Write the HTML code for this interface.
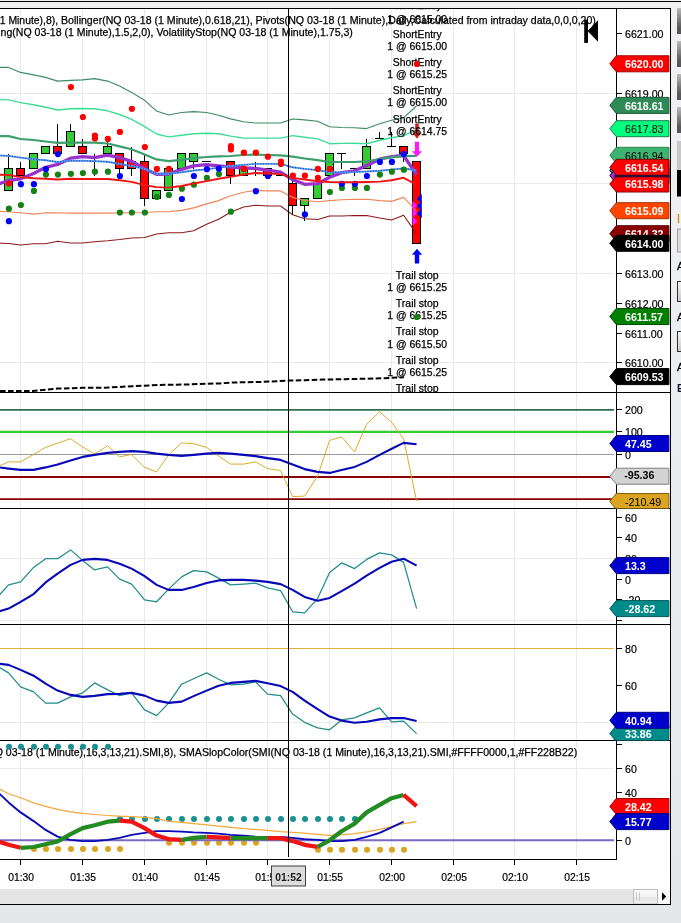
<!DOCTYPE html>
<html lang="en"><head><meta charset="utf-8"><title>Chart</title>
<style>
html,body{margin:0;padding:0;background:#e8e8e8;}
body{width:681px;height:923px;overflow:hidden;font-family:"Liberation Sans",sans-serif;}
svg{display:block;}
</style></head><body>
<svg width="681" height="923" viewBox="0 0 681 923" font-family="'Liberation Sans', sans-serif" font-size="10.67px">
<defs><linearGradient id="obg" x1="0" x2="0" y1="0" y2="1"><stop offset="0" stop-color="#f1f1f3"/><stop offset="0.5" stop-color="#ebecef"/><stop offset="1" stop-color="#e6e7e8"/></linearGradient></defs>
<rect x="0" y="0" width="681" height="923" fill="url(#obg)"/>
<rect x="0" y="0" width="681" height="8" fill="#f0f0f0"/>
<rect x="0" y="1" width="681" height="1" fill="#000"/>
<rect x="0" y="8" width="671" height="897" fill="#fff"/>
<rect x="0" y="889" width="670" height="15" fill="#e4e4e4"/>
<defs><linearGradient id="thumb" x1="0" x2="0" y1="0" y2="1"><stop offset="0" stop-color="#fbfbfb"/><stop offset="0.5" stop-color="#f2f2f2"/><stop offset="0.55" stop-color="#e6e6e6"/><stop offset="1" stop-color="#efefef"/></linearGradient></defs>
<rect x="633.5" y="889.5" width="24" height="14.5" fill="url(#thumb)" stroke="#bdbdbd" stroke-width="1"/>
<path d="M636.5 892.5v8M639.5 892.5v8" stroke="#c8c8c8" stroke-width="1"/>
<rect x="658" y="889" width="12" height="15" fill="#fafafa"/>
<path d="M662 892.2l4.2 4.3-4.2 4.3z" fill="#000"/>
<defs><clipPath id="cp1"><rect x="0" y="9" width="616" height="383.5"/></clipPath><clipPath id="cp2"><rect x="0" y="393" width="616" height="115.5"/></clipPath><clipPath id="cp3"><rect x="0" y="509" width="616" height="115"/></clipPath><clipPath id="cp4"><rect x="0" y="624.5" width="616" height="116"/></clipPath><clipPath id="cp5"><rect x="0" y="741" width="616" height="118"/></clipPath><clipPath id="cpa"><rect x="0" y="9" width="616" height="850"/></clipPath><clipPath id="ax1"><rect x="605" y="9" width="65" height="383.5"/></clipPath><clipPath id="ax2"><rect x="605" y="393" width="65" height="115.5"/></clipPath><clipPath id="ax3"><rect x="605" y="509" width="65" height="115"/></clipPath><clipPath id="ax4"><rect x="605" y="624.5" width="65" height="116"/></clipPath><clipPath id="ax5"><rect x="605" y="741" width="65" height="118"/></clipPath></defs>
<g stroke="#eaeaea" stroke-width="1" shape-rendering="crispEdges">
<line x1="20.5" y1="9" x2="20.5" y2="857"/>
<line x1="82.5" y1="9" x2="82.5" y2="857"/>
<line x1="144.5" y1="9" x2="144.5" y2="857"/>
<line x1="206.5" y1="9" x2="206.5" y2="857"/>
<line x1="267.5" y1="9" x2="267.5" y2="857"/>
<line x1="329.5" y1="9" x2="329.5" y2="857"/>
<line x1="391.5" y1="9" x2="391.5" y2="857"/>
<line x1="453.5" y1="9" x2="453.5" y2="857"/>
<line x1="514.5" y1="9" x2="514.5" y2="857"/>
<line x1="576.5" y1="9" x2="576.5" y2="857"/>
<line x1="0" y1="93.5" x2="614" y2="93.5"/>
<line x1="0" y1="183.5" x2="614" y2="183.5"/>
<line x1="0" y1="273.5" x2="614" y2="273.5"/>
<line x1="0" y1="362.5" x2="614" y2="362.5"/>
<line x1="0" y1="558.5" x2="614" y2="558.5"/>
<line x1="0" y1="620.5" x2="614" y2="620.5"/>
<line x1="0" y1="722.5" x2="614" y2="722.5"/>
<line x1="0" y1="768.5" x2="614" y2="768.5"/>
</g>
<g clip-path="url(#cp1)">
<text x="-0.30" y="24" fill="#000" stroke="#000" stroke-width="0.25" textLength="58.41" lengthAdjust="spacingAndGlyphs">1 Minute),8),</text>
<text x="61.00" y="24" fill="#000" stroke="#000" stroke-width="0.25" textLength="191.66" lengthAdjust="spacingAndGlyphs">Bollinger(NQ 03-18 (1 Minute),0.618,21),</text>
<text x="255.60" y="24" fill="#000" stroke="#000" stroke-width="0.25" textLength="132.60" lengthAdjust="spacingAndGlyphs">Pivots(NQ 03-18 (1 Minute),</text>
<text x="388.20" y="24" fill="#000" stroke="#000" stroke-width="0.25" textLength="207.60" lengthAdjust="spacingAndGlyphs">Daily,Calculated from intraday data,0,0,0,20)</text>
<text x="0.60" y="36" fill="#000" stroke="#000" stroke-width="0.25" textLength="152.87" lengthAdjust="spacingAndGlyphs">ng(NQ 03-18 (1 Minute),1.5,2,0),</text>
<text x="156.40" y="36" fill="#000" stroke="#000" stroke-width="0.25" textLength="196.50" lengthAdjust="spacingAndGlyphs">VolatilityStop(NQ 03-18 (1 Minute),1.75,3)</text>
<line x1="8.5" y1="154.0" x2="8.5" y2="191.0" stroke="#000" stroke-width="1"/>
<rect x="4.5" y="168.5" width="8" height="22.0" fill="#32cd32" stroke="#000" stroke-width="1"/>
<line x1="20.5" y1="162.0" x2="20.5" y2="176.0" stroke="#000" stroke-width="1"/>
<rect x="16.5" y="168.5" width="8" height="7.0" fill="#ff0000" stroke="#000" stroke-width="1"/>
<rect x="29.5" y="153.5" width="8" height="15.0" fill="#32cd32" stroke="#000" stroke-width="1"/>
<rect x="41.5" y="146.5" width="8" height="7.0" fill="#32cd32" stroke="#000" stroke-width="1"/>
<line x1="57.5" y1="124.0" x2="57.5" y2="154.0" stroke="#000" stroke-width="1"/>
<rect x="53.5" y="146.5" width="8" height="7.0" fill="#ff0000" stroke="#000" stroke-width="1"/>
<line x1="70.5" y1="124.0" x2="70.5" y2="147.0" stroke="#000" stroke-width="1"/>
<rect x="66.5" y="131.5" width="8" height="15.0" fill="#32cd32" stroke="#000" stroke-width="1"/>
<line x1="82.5" y1="139.0" x2="82.5" y2="154.0" stroke="#000" stroke-width="1"/>
<rect x="78.5" y="146.5" width="8" height="7.0" fill="#ff0000" stroke="#000" stroke-width="1"/>
<line x1="94.5" y1="154.0" x2="94.5" y2="176.0" stroke="#000" stroke-width="1"/>
<line x1="90.0" y1="161.5" x2="99.0" y2="161.5" stroke="#000" stroke-width="1"/>
<line x1="107.5" y1="139.0" x2="107.5" y2="154.0" stroke="#000" stroke-width="1"/>
<rect x="103.5" y="146.5" width="8" height="7.0" fill="#32cd32" stroke="#000" stroke-width="1"/>
<line x1="119.5" y1="154.0" x2="119.5" y2="176.0" stroke="#000" stroke-width="1"/>
<rect x="115.5" y="153.5" width="8" height="15.0" fill="#ff0000" stroke="#000" stroke-width="1"/>
<line x1="131.5" y1="147.0" x2="131.5" y2="176.0" stroke="#000" stroke-width="1"/>
<rect x="127.5" y="161.5" width="8" height="7.0" fill="#ff0000" stroke="#000" stroke-width="1"/>
<line x1="144.5" y1="154.0" x2="144.5" y2="206.0" stroke="#000" stroke-width="1"/>
<rect x="140.5" y="161.5" width="8" height="37.0" fill="#ff0000" stroke="#000" stroke-width="1"/>
<rect x="152.5" y="190.5" width="8" height="8.0" fill="#32cd32" stroke="#000" stroke-width="1"/>
<rect x="164.5" y="168.5" width="8" height="22.0" fill="#32cd32" stroke="#000" stroke-width="1"/>
<rect x="177.5" y="153.5" width="8" height="15.0" fill="#32cd32" stroke="#000" stroke-width="1"/>
<line x1="193.5" y1="154.0" x2="193.5" y2="169.0" stroke="#000" stroke-width="1"/>
<rect x="189.5" y="153.5" width="8" height="8.0" fill="#32cd32" stroke="#000" stroke-width="1"/>
<line x1="202.0" y1="161.5" x2="211.0" y2="161.5" stroke="#000" stroke-width="1"/>
<line x1="230.5" y1="162.0" x2="230.5" y2="184.0" stroke="#000" stroke-width="1"/>
<rect x="226.5" y="161.5" width="8" height="14.0" fill="#ff0000" stroke="#000" stroke-width="1"/>
<rect x="239.5" y="168.5" width="8" height="7.0" fill="#32cd32" stroke="#000" stroke-width="1"/>
<line x1="255.5" y1="162.0" x2="255.5" y2="176.0" stroke="#000" stroke-width="1"/>
<line x1="251.0" y1="168.5" x2="260.0" y2="168.5" stroke="#000" stroke-width="1"/>
<rect x="263.5" y="168.5" width="8" height="7.0" fill="#ff0000" stroke="#000" stroke-width="1"/>
<line x1="276.0" y1="175.5" x2="285.0" y2="175.5" stroke="#000" stroke-width="1"/>
<line x1="292.5" y1="176.0" x2="292.5" y2="214.0" stroke="#000" stroke-width="1"/>
<rect x="288.5" y="183.5" width="8" height="22.0" fill="#ff0000" stroke="#000" stroke-width="1"/>
<line x1="304.5" y1="199.0" x2="304.5" y2="221.0" stroke="#000" stroke-width="1"/>
<rect x="300.5" y="198.5" width="8" height="7.0" fill="#32cd32" stroke="#000" stroke-width="1"/>
<rect x="313.5" y="183.5" width="8" height="15.0" fill="#32cd32" stroke="#000" stroke-width="1"/>
<rect x="325.5" y="153.5" width="8" height="22.0" fill="#32cd32" stroke="#000" stroke-width="1"/>
<line x1="341.5" y1="154.0" x2="341.5" y2="169.0" stroke="#000" stroke-width="1"/>
<line x1="337.0" y1="153.5" x2="346.0" y2="153.5" stroke="#000" stroke-width="1"/>
<line x1="354.5" y1="169.0" x2="354.5" y2="176.0" stroke="#000" stroke-width="1"/>
<line x1="350.0" y1="168.5" x2="359.0" y2="168.5" stroke="#000" stroke-width="1"/>
<line x1="366.5" y1="139.0" x2="366.5" y2="169.0" stroke="#000" stroke-width="1"/>
<rect x="362.5" y="146.5" width="8" height="22.0" fill="#32cd32" stroke="#000" stroke-width="1"/>
<line x1="379.5" y1="132.0" x2="379.5" y2="139.0" stroke="#000" stroke-width="1"/>
<line x1="375.0" y1="138.5" x2="384.0" y2="138.5" stroke="#000" stroke-width="1"/>
<line x1="391.5" y1="132.0" x2="391.5" y2="147.0" stroke="#000" stroke-width="1"/>
<line x1="387.0" y1="146.5" x2="396.0" y2="146.5" stroke="#000" stroke-width="1"/>
<line x1="403.5" y1="147.0" x2="403.5" y2="162.0" stroke="#000" stroke-width="1"/>
<rect x="399.5" y="146.5" width="8" height="7.0" fill="#ff0000" stroke="#000" stroke-width="1"/>
<rect x="412.5" y="161.5" width="8" height="82.0" fill="#ff0000" stroke="#000" stroke-width="1"/>
<polyline points="-4.4,185.0 8.6,180.5 20.6,178.8 33.6,173.5 45.6,167.3 57.6,164.4 70.6,158.2 82.6,156.7 94.6,157.6 107.6,155.2 119.6,157.6 131.6,161.3 144.6,168.7 156.6,174.3 168.6,174.0 181.6,169.3 193.6,165.8 206.6,164.6 218.6,165.8 230.6,167.0 243.6,167.9 255.6,168.5 267.6,170.2 280.6,172.2 292.6,179.6 304.6,184.3 317.6,183.7 329.6,177.3 341.6,172.6 354.6,170.8 366.6,165.5 379.6,159.2 391.6,156.7 403.6,155.5 416.6,174.9" fill="none" stroke="#9932cc" stroke-width="3.3" stroke-linejoin="round" />
<polyline points="-4.4,243.0 8.6,243.5 20.6,245.0 33.6,243.7 45.6,243.7 57.6,241.2 70.6,243.0 82.6,243.0 94.6,241.7 107.6,240.8 119.6,239.6 131.6,238.0 144.6,237.6 156.6,233.9 168.6,232.8 181.6,232.8 193.6,230.7 206.6,224.2 218.6,219.3 230.6,212.3 243.6,207.1 255.6,205.2 267.6,206.0 280.6,206.0 292.6,214.7 304.6,218.8 317.6,219.6 329.6,216.0 341.6,216.0 354.6,215.6 366.6,215.6 379.6,218.0 391.6,220.1 403.6,215.2 416.6,233.9" fill="none" stroke="#8b1a1a" stroke-width="1.05" stroke-linejoin="round" />
<polyline points="-4.4,211.2 8.6,211.7 20.6,212.8 33.6,214.1 45.6,212.8 57.6,212.8 70.6,213.1 82.6,213.1 94.6,213.1 107.6,213.1 119.6,213.0 131.6,212.8 144.6,212.5 156.6,211.7 168.6,211.7 181.6,210.4 193.6,207.9 206.6,203.9 218.6,200.6 230.6,195.7 243.6,192.2 255.6,190.4 267.6,190.9 280.6,190.9 292.6,197.4 304.6,200.6 317.6,201.7 329.6,200.6 341.6,199.8 354.6,199.3 366.6,199.3 379.6,200.6 391.6,201.4 403.6,197.4 416.6,211.2" fill="none" stroke="#f0855a" stroke-width="1.15" stroke-linejoin="round" />
<polyline points="-4.4,67.4 8.6,67.4 20.6,72.4 33.6,74.9 45.6,77.4 57.6,81.1 70.6,80.4 82.6,79.9 94.6,78.6 107.6,81.1 119.6,86.1 131.6,92.4 144.6,100.3 156.6,111.1 168.6,115.0 181.6,112.5 193.6,111.6 206.6,112.5 218.6,115.3 230.6,118.9 243.6,121.8 255.6,123.0 267.6,123.0 280.6,123.0 292.6,119.0 304.6,119.9 317.6,121.2 329.6,126.7 341.6,127.5 354.6,127.8 366.6,128.6 379.6,123.8 391.6,120.2 403.6,117.7 416.6,106.0" fill="none" stroke="#3c8c64" stroke-width="1.1" stroke-linejoin="round" />
<polyline points="-4.4,99.5 8.6,99.9 20.6,102.6 33.6,104.7 45.6,107.2 57.6,110.0 70.6,108.8 82.6,108.5 94.6,108.8 107.6,110.8 119.6,114.5 131.6,119.4 144.6,126.7 156.6,134.0 168.6,136.9 181.6,135.3 193.6,133.7 206.6,133.2 218.6,133.7 230.6,136.1 243.6,138.1 255.6,138.1 267.6,138.1 280.6,138.1 292.6,135.6 304.6,137.2 317.6,138.9 329.6,143.7 341.6,143.4 354.6,143.3 366.6,143.7 379.6,140.2 391.6,137.7 403.6,135.6 416.6,129.9" fill="none" stroke="#3ddc97" stroke-width="1.4" stroke-linejoin="round" />
<polyline points="-4.4,136.1 8.6,136.1 20.6,139.0 33.6,140.0 45.6,141.5 57.6,142.9 70.6,142.6 82.6,142.6 94.6,142.6 107.6,143.5 119.6,146.4 131.6,149.3 144.6,154.6 156.6,159.4 168.6,161.1 181.6,159.9 193.6,158.2 206.6,157.0 218.6,156.4 230.6,156.0 243.6,155.0 255.6,154.6 267.6,155.0 280.6,155.3 292.6,156.7 304.6,158.5 317.6,160.2 329.6,162.0 341.6,162.0 354.6,162.0 366.6,161.4 379.6,159.0 391.6,157.2 403.6,156.2 416.6,155.8" fill="none" stroke="#3ca06e" stroke-width="2.2" stroke-linejoin="round" />
<polyline points="-4.4,155.4 8.6,155.9 20.6,157.6 33.6,159.2 45.6,160.3 57.6,162.0 70.6,160.8 82.6,160.8 94.6,161.1 107.6,161.8 119.6,164.0 131.6,166.0 144.6,168.9 156.6,173.8 168.6,173.8 181.6,172.2 193.6,170.5 206.6,169.4 218.6,167.6 230.6,166.0 243.6,164.9 255.6,163.9 267.6,163.9 280.6,163.9 292.6,167.3 304.6,168.9 317.6,170.1 329.6,172.2 341.6,172.2 354.6,172.0 366.6,171.5 379.6,170.8 391.6,169.6 403.6,168.4 416.6,170.5" fill="none" stroke="#58a4f0" stroke-width="1.9" stroke-linejoin="round" />
<polyline points="-4.4,155.4 8.6,155.9 20.6,157.6 33.6,159.2 45.6,160.3 57.6,162.0 70.6,160.8 82.6,160.8 94.6,161.1 107.6,161.8 119.6,164.0 131.6,166.0 144.6,168.9 156.6,173.8 168.6,173.8 181.6,172.2 193.6,170.5 206.6,169.4 218.6,167.6 230.6,166.0 243.6,164.9 255.6,163.9 267.6,163.9 280.6,163.9 292.6,167.3 304.6,168.9 317.6,170.1 329.6,172.2 341.6,172.2 354.6,172.0 366.6,171.5 379.6,170.8 391.6,169.6 403.6,168.4 416.6,170.5" fill="none" stroke="#2448c4" stroke-width="1.3" stroke-linejoin="round" stroke-dasharray="1.2 1.5"/>
<polyline points="0.0,391.0 32.5,391.0 57.4,388.6 82.4,387.8 107.3,387.6 132.3,386.2 157.3,385.0 182.5,384.6 220.0,383.4 232.4,382.5 260.0,382.0 290.0,380.6 305.0,380.3 322.0,379.6 345.0,379.2 382.4,378.3 403.6,377.3" fill="none" stroke="#000" stroke-width="2.0" stroke-linejoin="round" stroke-dasharray="5.6 2.4"/>
<path d="M415.2 123.4h3.6v9h2.8l-4.6 6.4l-4.6-6.4h2.8z" fill="#d42020"/>
<path d="M414.9 141.8h4.2v9.8h2.9l-5-5.4l0 0l-5 5.4h0z" fill="none"/><path d="M414.9 141.8h4.2v9.4h2.9l-5 5.6l-5-5.6h2.9z" fill="#ff19ff"/>
<path d="M414.8 263.6h4.4v-8.8h2.9l-5.1-6.1l-5.1 6.1h2.9z" fill="#0000ff"/>
<path d="M412.4 200.9L417.4 205.5L412.4 210.1Z" fill="#ff19ff"/>
<path d="M412.4 208.4L417.4 213L412.4 217.6Z" fill="#ff19ff"/>
<path d="M412.4 216.6L417.4 221.2L412.4 225.79999999999998Z" fill="#ff19ff"/>
<path d="M421.8 194.1L416.8 198.7L421.8 203.29999999999998Z" fill="#0000ff"/>
<path d="M421.8 201.4L416.8 206L421.8 210.6Z" fill="#0000ff"/>
<path d="M421.8 209.0L416.8 213.6L421.8 218.2Z" fill="#0000ff"/>
<text x="392.75" y="8.6" fill="#000" stroke="#000" stroke-width="0.25" textLength="48.9" lengthAdjust="spacingAndGlyphs">ShortEntry</text>
<text x="387.25" y="22.6" fill="#000" stroke="#000" stroke-width="0.25" textLength="59.9" lengthAdjust="spacingAndGlyphs">1 @ 6615.00</text>
<text x="392.75" y="38" fill="#000" stroke="#000" stroke-width="0.25" textLength="48.9" lengthAdjust="spacingAndGlyphs">ShortEntry</text>
<text x="387.25" y="50" fill="#000" stroke="#000" stroke-width="0.25" textLength="59.9" lengthAdjust="spacingAndGlyphs">1 @ 6615.00</text>
<text x="392.75" y="66" fill="#000" stroke="#000" stroke-width="0.25" textLength="48.9" lengthAdjust="spacingAndGlyphs">ShortEntry</text>
<text x="387.25" y="78" fill="#000" stroke="#000" stroke-width="0.25" textLength="59.9" lengthAdjust="spacingAndGlyphs">1 @ 6615.25</text>
<text x="392.75" y="94" fill="#000" stroke="#000" stroke-width="0.25" textLength="48.9" lengthAdjust="spacingAndGlyphs">ShortEntry</text>
<text x="387.25" y="106" fill="#000" stroke="#000" stroke-width="0.25" textLength="59.9" lengthAdjust="spacingAndGlyphs">1 @ 6615.00</text>
<text x="392.75" y="123" fill="#000" stroke="#000" stroke-width="0.25" textLength="48.9" lengthAdjust="spacingAndGlyphs">ShortEntry</text>
<text x="387.25" y="135" fill="#000" stroke="#000" stroke-width="0.25" textLength="59.9" lengthAdjust="spacingAndGlyphs">1 @ 6614.75</text>
<text x="395.85" y="279" fill="#000" stroke="#000" stroke-width="0.25" textLength="42.7" lengthAdjust="spacingAndGlyphs">Trail stop</text>
<text x="387.25" y="291" fill="#000" stroke="#000" stroke-width="0.25" textLength="59.9" lengthAdjust="spacingAndGlyphs">1 @ 6615.25</text>
<text x="395.85" y="307" fill="#000" stroke="#000" stroke-width="0.25" textLength="42.7" lengthAdjust="spacingAndGlyphs">Trail stop</text>
<text x="387.25" y="319" fill="#000" stroke="#000" stroke-width="0.25" textLength="59.9" lengthAdjust="spacingAndGlyphs">1 @ 6615.25</text>
<text x="395.85" y="335" fill="#000" stroke="#000" stroke-width="0.25" textLength="42.7" lengthAdjust="spacingAndGlyphs">Trail stop</text>
<text x="387.25" y="347.5" fill="#000" stroke="#000" stroke-width="0.25" textLength="59.9" lengthAdjust="spacingAndGlyphs">1 @ 6615.50</text>
<text x="395.85" y="364" fill="#000" stroke="#000" stroke-width="0.25" textLength="42.7" lengthAdjust="spacingAndGlyphs">Trail stop</text>
<text x="387.25" y="376" fill="#000" stroke="#000" stroke-width="0.25" textLength="59.9" lengthAdjust="spacingAndGlyphs">1 @ 6615.25</text>
<text x="395.85" y="392" fill="#000" stroke="#000" stroke-width="0.25" textLength="42.7" lengthAdjust="spacingAndGlyphs">Trail stop</text>
<circle cx="8.9" cy="208.7" r="3.1" fill="#148214"/>
<circle cx="20.9" cy="205" r="3.1" fill="#148214"/>
<circle cx="33.9" cy="190.9" r="3.1" fill="#148214"/>
<circle cx="45.9" cy="174.6" r="3.1" fill="#148214"/>
<circle cx="57.9" cy="174.6" r="3.1" fill="#148214"/>
<circle cx="70.9" cy="173.8" r="3.1" fill="#148214"/>
<circle cx="82.9" cy="173" r="3.1" fill="#148214"/>
<circle cx="94.9" cy="171.7" r="3.1" fill="#148214"/>
<circle cx="107.9" cy="171.7" r="3.1" fill="#148214"/>
<circle cx="119.9" cy="212.5" r="3.1" fill="#148214"/>
<circle cx="131.9" cy="212.5" r="3.1" fill="#148214"/>
<circle cx="144.9" cy="212.5" r="3.1" fill="#148214"/>
<circle cx="156.9" cy="196.9" r="3.1" fill="#148214"/>
<circle cx="168.9" cy="194.9" r="3.1" fill="#148214"/>
<circle cx="181.9" cy="188.7" r="3.1" fill="#148214"/>
<circle cx="193.9" cy="184.7" r="3.1" fill="#148214"/>
<circle cx="206.9" cy="177.9" r="3.1" fill="#148214"/>
<circle cx="218.9" cy="174.1" r="3.1" fill="#148214"/>
<circle cx="230.9" cy="211.7" r="3.1" fill="#148214"/>
<circle cx="329.9" cy="192" r="3.1" fill="#148214"/>
<circle cx="341.9" cy="187.9" r="3.1" fill="#148214"/>
<circle cx="354.9" cy="187.9" r="3.1" fill="#148214"/>
<circle cx="366.9" cy="187.9" r="3.1" fill="#148214"/>
<circle cx="379.9" cy="174.6" r="3.1" fill="#148214"/>
<circle cx="391.9" cy="171.7" r="3.1" fill="#148214"/>
<circle cx="403.9" cy="169.7" r="3.1" fill="#148214"/>
<circle cx="416.9" cy="317" r="3.1" fill="#148214"/>
<circle cx="8.9" cy="221.20000000000002" r="3.1" fill="#0000ff"/>
<circle cx="20.9" cy="184.20000000000002" r="3.1" fill="#0000ff"/>
<circle cx="33.9" cy="184.20000000000002" r="3.1" fill="#0000ff"/>
<circle cx="45.9" cy="169.20000000000002" r="3.1" fill="#0000ff"/>
<circle cx="57.9" cy="154.10000000000002" r="3.1" fill="#0000ff"/>
<circle cx="119.9" cy="176.0" r="3.1" fill="#0000ff"/>
<circle cx="181.9" cy="199.0" r="3.1" fill="#0000ff"/>
<circle cx="193.9" cy="176.0" r="3.1" fill="#0000ff"/>
<circle cx="206.9" cy="169.20000000000002" r="3.1" fill="#0000ff"/>
<circle cx="218.9" cy="168.70000000000002" r="3.1" fill="#0000ff"/>
<circle cx="267.9" cy="176.0" r="3.1" fill="#0000ff"/>
<circle cx="255.9" cy="191.20000000000002" r="3.1" fill="#0000ff"/>
<circle cx="304.9" cy="214.4" r="3.1" fill="#0000ff"/>
<circle cx="341.9" cy="183.8" r="3.1" fill="#0000ff"/>
<circle cx="354.9" cy="183.8" r="3.1" fill="#0000ff"/>
<circle cx="366.9" cy="176.0" r="3.1" fill="#0000ff"/>
<circle cx="379.9" cy="161.9" r="3.1" fill="#0000ff"/>
<circle cx="391.9" cy="161.9" r="3.1" fill="#0000ff"/>
<circle cx="403.9" cy="154.10000000000002" r="3.1" fill="#0000ff"/>
<circle cx="8.9" cy="183.5" r="3.1" fill="#ff0000"/>
<circle cx="70.9" cy="87" r="3.1" fill="#ff0000"/>
<circle cx="82.9" cy="117" r="3.1" fill="#ff0000"/>
<circle cx="94.9" cy="135.6" r="3.1" fill="#ff0000"/>
<circle cx="94.9" cy="138.5" r="3.1" fill="#ff0000"/>
<circle cx="107.9" cy="138.9" r="3.1" fill="#ff0000"/>
<circle cx="119.9" cy="131.9" r="3.1" fill="#ff0000"/>
<circle cx="131.9" cy="108.8" r="3.1" fill="#ff0000"/>
<circle cx="144.9" cy="147" r="3.1" fill="#ff0000"/>
<circle cx="156.9" cy="168.9" r="3.1" fill="#ff0000"/>
<circle cx="168.9" cy="168.9" r="3.1" fill="#ff0000"/>
<circle cx="230.9" cy="146.2" r="3.1" fill="#ff0000"/>
<circle cx="230.9" cy="149.4" r="3.1" fill="#ff0000"/>
<circle cx="243.9" cy="152.7" r="3.1" fill="#ff0000"/>
<circle cx="255.9" cy="152.7" r="3.1" fill="#ff0000"/>
<circle cx="267.9" cy="156.7" r="3.1" fill="#ff0000"/>
<circle cx="280.9" cy="161.6" r="3.1" fill="#ff0000"/>
<circle cx="280.9" cy="164" r="3.1" fill="#ff0000"/>
<circle cx="243.9" cy="168.9" r="3.1" fill="#ff0000"/>
<circle cx="292.9" cy="175.7" r="3.1" fill="#ff0000"/>
<circle cx="304.9" cy="175.7" r="3.1" fill="#ff0000"/>
<circle cx="317.9" cy="168.9" r="3.1" fill="#ff0000"/>
<circle cx="317.9" cy="177.9" r="3.1" fill="#ff0000"/>
<circle cx="329.9" cy="168.9" r="3.1" fill="#ff0000"/>
<circle cx="416.9" cy="64" r="3.1" fill="#ff0000"/>
<polyline points="-4.4,174.6 8.6,175.0 20.6,177.1 33.6,178.3 45.6,178.7 57.6,179.5 70.6,178.7 82.6,179.0 94.6,179.0 107.6,179.0 119.6,180.3 131.6,181.9 144.6,185.2 156.6,187.1 168.6,187.6 181.6,186.0 193.6,183.5 206.6,181.1 218.6,178.8 230.6,176.7 243.6,174.5 255.6,173.0 267.6,173.5 280.6,174.1 292.6,177.9 304.6,179.5 317.6,181.3 329.6,182.0 341.6,182.2 354.6,182.2 366.6,182.0 379.6,181.6 391.6,180.2 403.6,177.8 416.6,184.6" fill="none" stroke="#f01414" stroke-width="1.9" stroke-linejoin="round" />
<rect x="584.2" y="19.8" width="3.8" height="23.1" fill="#000"/>
<path d="M587.6 31L598 20.2v21.5z" fill="#000"/>
</g>
<g clip-path="url(#cp2)">
<line x1="0" y1="409.8" x2="614" y2="409.8" stroke="#2e6e50" stroke-width="1.8"/>
<line x1="0" y1="431.8" x2="614" y2="431.8" stroke="#32cd32" stroke-width="2.2"/>
<line x1="0" y1="454.5" x2="614" y2="454.5" stroke="#999999" stroke-width="1"/>
<line x1="0" y1="477" x2="614" y2="477" stroke="#8b0000" stroke-width="1.8"/>
<line x1="0" y1="499.1" x2="614" y2="499.1" stroke="#8b0000" stroke-width="1.8"/>
<polyline points="-4.4,467.5 8.6,461.9 20.6,461.9 33.6,454.4 45.6,447.4 57.6,443.2 70.6,438.7 82.6,446.9 94.6,454.1 107.6,445.7 119.6,456.9 131.6,454.4 144.6,467.4 156.6,471.9 168.6,455.0 181.6,442.9 193.6,443.7 206.6,447.4 218.6,456.1 230.6,464.1 243.6,464.1 255.6,461.9 267.6,468.6 280.6,470.6 292.6,496.6 304.6,496.1 317.6,476.1 329.6,440.4 341.6,436.9 354.6,451.9 366.6,424.4 379.6,411.7 391.6,422.4 403.6,438.7 416.6,501.1" fill="none" stroke="#daa520" stroke-width="0.95" stroke-linejoin="round" />
<polyline points="-4.4,467.0 8.6,468.6 20.6,469.9 33.6,469.9 45.6,467.4 57.6,464.4 70.6,460.4 82.6,456.9 94.6,454.9 107.6,452.9 119.6,451.9 131.6,451.1 144.6,451.9 156.6,453.6 168.6,454.9 181.6,455.9 193.6,454.9 206.6,453.6 218.6,452.9 230.6,453.6 243.6,454.9 255.6,456.1 267.6,458.1 280.6,459.9 292.6,464.4 304.6,469.1 317.6,471.9 329.6,472.9 341.6,469.9 354.6,466.9 366.6,461.9 379.6,454.9 391.6,448.7 403.6,442.9 416.6,444.2" fill="none" stroke="#0808b8" stroke-width="2.1" stroke-linejoin="round" />
</g>
<g clip-path="url(#cp3)">
<polyline points="-4.4,599.0 8.6,584.9 20.6,581.9 33.6,567.4 45.6,558.7 57.6,558.7 70.6,549.9 82.6,560.4 94.6,569.9 107.6,566.9 119.6,579.1 131.6,584.1 144.6,599.9 156.6,601.8 168.6,589.1 181.6,576.9 193.6,570.6 206.6,571.9 218.6,578.1 230.6,584.9 243.6,584.1 255.6,583.1 267.6,587.9 280.6,590.6 292.6,611.8 304.6,612.8 317.6,598.6 329.6,572.4 341.6,562.9 354.6,568.6 366.6,559.4 379.6,552.9 391.6,554.9 403.6,562.4 416.6,608.6" fill="none" stroke="#238c8c" stroke-width="1.25" stroke-linejoin="round" />
<polyline points="-4.4,612.5 8.6,608.6 20.6,601.8 33.6,594.1 45.6,582.4 57.6,573.6 70.6,564.9 82.6,559.9 94.6,558.9 107.6,559.9 119.6,563.7 131.6,568.6 144.6,576.1 156.6,584.9 168.6,589.9 181.6,589.9 193.6,586.9 206.6,583.1 218.6,580.4 230.6,579.9 243.6,579.9 255.6,580.6 267.6,581.9 280.6,584.1 292.6,589.9 304.6,596.9 317.6,600.8 329.6,597.9 341.6,591.1 354.6,583.6 366.6,575.6 379.6,567.9 391.6,561.7 403.6,558.7 416.6,565.7" fill="none" stroke="#0808b8" stroke-width="2.1" stroke-linejoin="round" />
</g>
<g clip-path="url(#cp4)">
<line x1="0" y1="648.5" x2="614" y2="648.5" stroke="#dfb236" stroke-width="1"/>
<polyline points="-4.4,665.0 8.6,672.9 20.6,686.9 33.6,691.9 45.6,703.1 57.6,703.1 70.6,696.9 82.6,692.9 94.6,682.9 107.6,689.9 119.6,695.6 131.6,692.9 144.6,709.9 156.6,715.6 168.6,703.1 181.6,684.2 193.6,678.7 206.6,672.9 218.6,679.2 230.6,684.9 243.6,684.2 255.6,681.9 267.6,694.1 280.6,695.6 292.6,714.1 304.6,722.3 317.6,727.8 329.6,729.8 341.6,719.9 354.6,717.9 366.6,712.9 379.6,707.9 391.6,721.8 403.6,721.1 416.6,733.6" fill="none" stroke="#238c8c" stroke-width="1.25" stroke-linejoin="round" />
<polyline points="-4.4,663.3 8.6,664.9 20.6,669.9 33.6,675.7 45.6,683.7 57.6,690.6 70.6,694.9 82.6,696.9 94.6,695.9 107.6,694.1 119.6,693.9 131.6,692.9 144.6,695.6 156.6,700.6 168.6,702.9 181.6,701.6 193.6,696.1 206.6,690.6 218.6,685.7 230.6,682.9 243.6,681.9 255.6,680.9 267.6,683.2 280.6,686.1 292.6,691.9 304.6,700.6 317.6,709.1 329.6,716.6 341.6,720.6 354.6,722.8 366.6,721.8 379.6,719.4 391.6,718.1 403.6,718.1 416.6,721.1" fill="none" stroke="#0808b8" stroke-width="2.1" stroke-linejoin="round" />
</g>
<g clip-path="url(#cp5)">
<text x="-5.30" y="756" fill="#000" stroke="#000" stroke-width="0.25" textLength="181.38" lengthAdjust="spacingAndGlyphs">Q 03-18 (1 Minute),16,3,13,21).SMI,8),</text>
<text x="179.00" y="756" fill="#000" stroke="#000" stroke-width="0.25" textLength="398.20" lengthAdjust="spacingAndGlyphs">SMASlopColor(SMI(NQ 03-18 (1 Minute),16,3,13,21).SMI,#FFFF0000,1,#FF228B22)</text>
<circle cx="9.0" cy="746.7" r="3" fill="#1a9090"/>
<circle cx="21.0" cy="746.7" r="3" fill="#1a9090"/>
<circle cx="34.0" cy="746.7" r="3" fill="#1a9090"/>
<circle cx="46.0" cy="746.7" r="3" fill="#1a9090"/>
<circle cx="58.0" cy="746.7" r="3" fill="#1a9090"/>
<circle cx="71.0" cy="746.7" r="3" fill="#1a9090"/>
<circle cx="83.0" cy="746.7" r="3" fill="#1a9090"/>
<circle cx="95.0" cy="746.7" r="3" fill="#1a9090"/>
<circle cx="108.0" cy="746.7" r="3" fill="#1a9090"/>
<circle cx="120.0" cy="819.1" r="3" fill="#1a9090"/>
<circle cx="132.0" cy="819.1" r="3" fill="#1a9090"/>
<circle cx="145.0" cy="819.1" r="3" fill="#1a9090"/>
<circle cx="157.0" cy="819.1" r="3" fill="#1a9090"/>
<circle cx="169.0" cy="819.1" r="3" fill="#1a9090"/>
<circle cx="182.0" cy="819.1" r="3" fill="#1a9090"/>
<circle cx="194.0" cy="819.1" r="3" fill="#1a9090"/>
<circle cx="207.0" cy="819.1" r="3" fill="#1a9090"/>
<circle cx="219.0" cy="819.1" r="3" fill="#1a9090"/>
<circle cx="231.0" cy="819.1" r="3" fill="#1a9090"/>
<circle cx="244.0" cy="819.1" r="3" fill="#1a9090"/>
<circle cx="256.0" cy="819.1" r="3" fill="#1a9090"/>
<circle cx="268.0" cy="819.1" r="3" fill="#1a9090"/>
<circle cx="281.0" cy="819.1" r="3" fill="#1a9090"/>
<circle cx="293.0" cy="819.1" r="3" fill="#1a9090"/>
<circle cx="305.0" cy="819.1" r="3" fill="#1a9090"/>
<circle cx="318.0" cy="819.1" r="3" fill="#1a9090"/>
<circle cx="330.0" cy="819.1" r="3" fill="#1a9090"/>
<circle cx="342.0" cy="819.1" r="3" fill="#1a9090"/>
<circle cx="355.0" cy="819.1" r="3" fill="#1a9090"/>
<circle cx="34.0" cy="849.1" r="3" fill="#daa520"/>
<circle cx="46.0" cy="849.1" r="3" fill="#daa520"/>
<circle cx="58.0" cy="849.1" r="3" fill="#daa520"/>
<circle cx="71.0" cy="849.1" r="3" fill="#daa520"/>
<circle cx="83.0" cy="849.1" r="3" fill="#daa520"/>
<circle cx="95.0" cy="849.1" r="3" fill="#daa520"/>
<circle cx="108.0" cy="849.1" r="3" fill="#daa520"/>
<circle cx="120.0" cy="849.1" r="3" fill="#daa520"/>
<circle cx="169.0" cy="842.8" r="3" fill="#daa520"/>
<circle cx="182.0" cy="842.8" r="3" fill="#daa520"/>
<circle cx="194.0" cy="842.8" r="3" fill="#daa520"/>
<circle cx="207.0" cy="842.8" r="3" fill="#daa520"/>
<circle cx="219.0" cy="842.8" r="3" fill="#daa520"/>
<circle cx="231.0" cy="842.8" r="3" fill="#daa520"/>
<circle cx="244.0" cy="842.8" r="3" fill="#daa520"/>
<circle cx="256.0" cy="842.8" r="3" fill="#daa520"/>
<circle cx="318.0" cy="849.8" r="3" fill="#daa520"/>
<circle cx="330.0" cy="849.8" r="3" fill="#daa520"/>
<circle cx="342.0" cy="849.8" r="3" fill="#daa520"/>
<circle cx="355.0" cy="849.8" r="3" fill="#daa520"/>
<circle cx="367.0" cy="849.8" r="3" fill="#daa520"/>
<circle cx="380.0" cy="849.8" r="3" fill="#daa520"/>
<circle cx="392.0" cy="849.8" r="3" fill="#daa520"/>
<circle cx="404.0" cy="849.8" r="3" fill="#daa520"/>
<line x1="0" y1="840.3" x2="614" y2="840.3" stroke="#7b68c0" stroke-width="2"/>
<polyline points="-4.4,787.0 8.6,793.7 20.6,797.8 33.6,802.9 45.6,806.4 57.6,809.3 70.6,811.9 82.6,813.4 94.6,814.5 107.6,815.5 119.6,816.2 131.6,816.6 144.6,817.4 156.6,818.6 168.6,821.1 181.6,822.4 193.6,823.6 206.6,824.9 218.6,826.1 230.6,827.4 243.6,828.6 255.6,829.4 267.6,830.4 280.6,831.6 292.6,832.4 304.6,833.1 317.6,834.4 329.6,835.4 341.6,834.9 354.6,833.6 366.6,831.9 379.6,829.4 391.6,826.6 403.6,823.6 416.6,821.6" fill="none" stroke="#f5a83c" stroke-width="1.2" stroke-linejoin="round" />
<polyline points="-4.4,790.0 8.6,802.4 20.6,812.4 33.6,821.1 45.6,829.9 57.6,836.6 70.6,839.9 82.6,841.1 94.6,841.1 107.6,839.9 119.6,837.9 131.6,834.9 144.6,832.9 156.6,831.1 168.6,831.1 181.6,831.6 193.6,832.4 206.6,832.9 218.6,833.6 230.6,834.9 243.6,835.6 255.6,836.6 267.6,836.9 280.6,836.9 292.6,837.9 304.6,839.1 317.6,839.9 329.6,841.1 341.6,841.1 354.6,839.9 366.6,836.9 379.6,832.9 391.6,827.4 403.6,821.6" fill="none" stroke="#0808b8" stroke-width="1.9" stroke-linejoin="round" />
<polyline points="-4.4,840.5 8.6,844.8 20.6,847.8" fill="none" stroke="#f01414" stroke-width="4.2" stroke-linejoin="round" stroke-linecap="butt"/>
<polyline points="20.6,847.8 33.6,847.0 45.6,844.3 57.6,841.4 70.6,834.2 82.6,828.1 94.6,825.2 107.6,821.7 119.6,820.7" fill="none" stroke="#228b22" stroke-width="4.2" stroke-linejoin="round" stroke-linecap="butt"/>
<polyline points="119.6,820.7 131.6,821.7 144.6,828.1 156.6,835.6 168.6,839.1 181.6,839.9" fill="none" stroke="#f01414" stroke-width="4.2" stroke-linejoin="round" stroke-linecap="butt"/>
<polyline points="181.6,839.9 193.6,837.9 206.6,836.9" fill="none" stroke="#228b22" stroke-width="4.2" stroke-linejoin="round" stroke-linecap="butt"/>
<polyline points="206.6,836.9 218.6,837.4 230.6,838.1" fill="none" stroke="#f01414" stroke-width="4.2" stroke-linejoin="round" stroke-linecap="butt"/>
<polyline points="230.6,838.1 243.6,838.1 255.6,838.1 267.6,838.1" fill="none" stroke="#228b22" stroke-width="4.2" stroke-linejoin="round" stroke-linecap="butt"/>
<polyline points="267.6,838.1 280.6,838.1 292.6,841.1 304.6,844.8 317.6,846.8" fill="none" stroke="#f01414" stroke-width="4.2" stroke-linejoin="round" stroke-linecap="butt"/>
<polyline points="317.6,846.8 329.6,840.3 341.6,831.3 354.6,823.6 366.6,812.4 379.6,804.9 391.6,798.2 403.6,794.9" fill="none" stroke="#228b22" stroke-width="4.2" stroke-linejoin="round" stroke-linecap="butt"/>
<polyline points="403.6,794.9 416.6,806.1" fill="none" stroke="#f01414" stroke-width="4.2" stroke-linejoin="round" stroke-linecap="butt"/>
</g>
<rect x="288" y="9" width="1" height="848" fill="#000"/>
<g fill="#000" shape-rendering="crispEdges">
<rect x="0" y="8" width="671" height="1"/>
<rect x="670" y="8" width="1" height="897"/>
<rect x="0" y="904" width="671" height="1"/>
<rect x="616" y="8" width="1" height="852"/>
<rect x="0" y="392" width="670" height="1"/>
<rect x="0" y="508" width="670" height="1"/>
<rect x="0" y="624" width="670" height="1"/>
<rect x="0" y="740" width="670" height="1"/>
<rect x="0" y="859" width="617" height="1"/>
<rect x="20" y="860" width="1" height="5"/>
<rect x="82" y="860" width="1" height="5"/>
<rect x="144" y="860" width="1" height="5"/>
<rect x="206" y="860" width="1" height="5"/>
<rect x="267" y="860" width="1" height="5"/>
<rect x="329" y="860" width="1" height="5"/>
<rect x="391" y="860" width="1" height="5"/>
<rect x="453" y="860" width="1" height="5"/>
<rect x="514" y="860" width="1" height="5"/>
<rect x="576" y="860" width="1" height="5"/>
</g>
<text x="21.1" y="881" text-anchor="middle" fill="#000" stroke="#000" stroke-width="0.2" textLength="25.8" lengthAdjust="spacingAndGlyphs">01:30</text>
<text x="83.1" y="881" text-anchor="middle" fill="#000" stroke="#000" stroke-width="0.2" textLength="25.8" lengthAdjust="spacingAndGlyphs">01:35</text>
<text x="145.1" y="881" text-anchor="middle" fill="#000" stroke="#000" stroke-width="0.2" textLength="25.8" lengthAdjust="spacingAndGlyphs">01:40</text>
<text x="207.1" y="881" text-anchor="middle" fill="#000" stroke="#000" stroke-width="0.2" textLength="25.8" lengthAdjust="spacingAndGlyphs">01:45</text>
<text x="268.1" y="881" text-anchor="middle" fill="#000" stroke="#000" stroke-width="0.2" textLength="25.8" lengthAdjust="spacingAndGlyphs">01:50</text>
<text x="330.1" y="881" text-anchor="middle" fill="#000" stroke="#000" stroke-width="0.2" textLength="25.8" lengthAdjust="spacingAndGlyphs">01:55</text>
<text x="392.1" y="881" text-anchor="middle" fill="#000" stroke="#000" stroke-width="0.2" textLength="25.8" lengthAdjust="spacingAndGlyphs">02:00</text>
<text x="454.1" y="881" text-anchor="middle" fill="#000" stroke="#000" stroke-width="0.2" textLength="25.8" lengthAdjust="spacingAndGlyphs">02:05</text>
<text x="515.1" y="881" text-anchor="middle" fill="#000" stroke="#000" stroke-width="0.2" textLength="25.8" lengthAdjust="spacingAndGlyphs">02:10</text>
<text x="577.1" y="881" text-anchor="middle" fill="#000" stroke="#000" stroke-width="0.2" textLength="25.8" lengthAdjust="spacingAndGlyphs">02:15</text>
<rect x="271.5" y="866" width="34" height="20" fill="#dcdcdc" stroke="#404040" stroke-width="1"/>
<text x="288.5" y="880.5" text-anchor="middle" font-weight="bold" fill="#1a1a1a" textLength="26.4" lengthAdjust="spacingAndGlyphs">01:52</text>
<g clip-path="url(#ax1)"><rect x="617" y="362" width="5" height="1" fill="#000" shape-rendering="crispEdges"/><text x="625" y="366.7" fill="#000" stroke="#000" stroke-width="0.2">6610.00</text></g>
<g clip-path="url(#ax1)"><rect x="617" y="333" width="5" height="1" fill="#000" shape-rendering="crispEdges"/><text x="625" y="337.7" fill="#000" stroke="#000" stroke-width="0.2">6611.00</text></g>
<g clip-path="url(#ax1)"><rect x="617" y="303" width="5" height="1" fill="#000" shape-rendering="crispEdges"/><text x="625" y="307.7" fill="#000" stroke="#000" stroke-width="0.2">6612.00</text></g>
<g clip-path="url(#ax1)"><rect x="617" y="273" width="5" height="1" fill="#000" shape-rendering="crispEdges"/><text x="625" y="277.7" fill="#000" stroke="#000" stroke-width="0.2">6613.00</text></g>
<g clip-path="url(#ax1)"><rect x="617" y="93" width="5" height="1" fill="#000" shape-rendering="crispEdges"/><text x="625" y="97.7" fill="#000" stroke="#000" stroke-width="0.2">6619.00</text></g>
<g clip-path="url(#ax1)"><rect x="617" y="33" width="5" height="1" fill="#000" shape-rendering="crispEdges"/><text x="625" y="37.7" fill="#000" stroke="#000" stroke-width="0.2">6621.00</text></g>
<g clip-path="url(#ax1)"><path d="M609.8 63.8L616.3 55.8H668.9V71.8H616.3Z" fill="#ff0000" stroke="#a00000" stroke-width="1" stroke-linejoin="miter"/><text x="625" y="68.0" fill="#fff" font-weight="bold">6620.00</text></g>
<g clip-path="url(#ax1)"><path d="M609.8 105.4L616.3 97.4H668.9V113.4H616.3Z" fill="#2e8b57" stroke="#1d5a38" stroke-width="1" stroke-linejoin="miter"/><text x="625" y="109.6" fill="#fff" font-weight="bold">6618.61</text></g>
<g clip-path="url(#ax1)"><path d="M609.8 128.7L616.3 120.7H668.9V136.7H616.3Z" fill="#00ff7f" stroke="#1c7a4c" stroke-width="1" stroke-linejoin="miter"/><text x="625" y="132.9" fill="#000">6617.83</text></g>
<g clip-path="url(#ax1)"><path d="M609.8 155.3L616.3 147.3H668.9V163.3H616.3Z" fill="#3cb371" stroke="#2a8050" stroke-width="1" stroke-linejoin="miter"/><text x="625" y="159.5" fill="#000">6616.94</text></g>
<g clip-path="url(#ax1)"><path d="M609.8 170.5L616.3 162.5H668.9V178.5H616.3Z" fill="#1e90ff" stroke="#000" stroke-width="1" stroke-linejoin="miter"/><text x="625" y="174.7" fill="#fff" font-weight="bold"></text></g>
<g clip-path="url(#ax1)"><path d="M609.8 175.6L616.3 167.6H668.9V183.6H616.3Z" fill="#9932cc" stroke="#20082c" stroke-width="1" stroke-linejoin="miter"/><text x="625" y="179.8" fill="#fff" font-weight="bold"></text></g>
<g clip-path="url(#ax1)"><path d="M609.8 167.3L616.3 159.3H668.9V175.3H616.3Z" fill="#ff0000" stroke="#800000" stroke-width="1" stroke-linejoin="miter"/><text x="625" y="171.5" fill="#fff" font-weight="bold">6616.54</text></g>
<g clip-path="url(#ax1)"><path d="M609.8 184.0L616.3 176.0H668.9V192.0H616.3Z" fill="#ff0000" stroke="#800000" stroke-width="1" stroke-linejoin="miter"/><text x="625" y="188.2" fill="#fff" font-weight="bold">6615.98</text></g>
<rect x="614.5" y="174.9" width="54.9" height="2.4" fill="#2a0c34" clip-path="url(#ax1)"/>
<g clip-path="url(#ax1)"><path d="M609.8 210.7L616.3 202.7H668.9V218.7H616.3Z" fill="#ff4500" stroke="#a03000" stroke-width="1" stroke-linejoin="miter"/><text x="625" y="214.9" fill="#fff" font-weight="bold">6615.09</text></g>
<g clip-path="url(#ax1)"><path d="M609.8 233.7L616.3 225.7H668.9V241.7H616.3Z" fill="#8b0000" stroke="#500000" stroke-width="1" stroke-linejoin="miter"/><text x="625" y="237.9" fill="#fff" font-weight="bold">6614.32</text></g>
<g clip-path="url(#ax1)"><path d="M609.8 243.3L616.3 235.3H668.9V251.3H616.3Z" fill="#000" stroke="#000" stroke-width="1" stroke-linejoin="miter"/><text x="625" y="247.5" fill="#fff" font-weight="bold">6614.00</text></g>
<g clip-path="url(#ax1)"><path d="M609.8 316.5L616.3 308.5H668.9V324.5H616.3Z" fill="#008000" stroke="#005000" stroke-width="1" stroke-linejoin="miter"/><text x="625" y="320.7" fill="#fff" font-weight="bold">6611.57</text></g>
<g clip-path="url(#ax1)"><path d="M609.8 376.6L616.3 368.6H668.9V384.6H616.3Z" fill="#000" stroke="#000" stroke-width="1" stroke-linejoin="miter"/><text x="625" y="380.8" fill="#fff" font-weight="bold">6609.53</text></g>
<g clip-path="url(#ax2)"><rect x="617" y="409" width="5" height="1" fill="#000" shape-rendering="crispEdges"/><text x="625" y="413.7" fill="#000" stroke="#000" stroke-width="0.2">200</text></g>
<g clip-path="url(#ax2)"><rect x="617" y="431" width="5" height="1" fill="#000" shape-rendering="crispEdges"/><text x="625" y="435.7" fill="#000" stroke="#000" stroke-width="0.2">100</text></g>
<g clip-path="url(#ax2)"><rect x="617" y="454" width="5" height="1" fill="#000" shape-rendering="crispEdges"/><text x="625" y="458.7" fill="#000" stroke="#000" stroke-width="0.2">0</text></g>
<g clip-path="url(#ax2)"><path d="M609.8 443.5L616.3 435.5H668.9V451.5H616.3Z" fill="#0000cd" stroke="#000080" stroke-width="1" stroke-linejoin="miter"/><text x="625" y="447.7" fill="#fff" font-weight="bold">47.45</text></g>
<g clip-path="url(#ax2)"><path d="M609.8 476.2L616.3 468.2H668.9V484.2H616.3Z" fill="#d3d3d3" stroke="#808080" stroke-width="1" stroke-linejoin="miter"/><text x="624.2" y="478.9" fill="#000" font-weight="bold">-95.36</text></g>
<g clip-path="url(#ax2)"><path d="M609.8 501.5L616.3 493.5H668.9V509.5H616.3Z" fill="#daa520" stroke="#806010" stroke-width="1" stroke-linejoin="miter"/><text x="625" y="505.7" fill="#000">-210.49</text></g>
<g clip-path="url(#ax3)"><rect x="617" y="517" width="5" height="1" fill="#000" shape-rendering="crispEdges"/><text x="625" y="521.7" fill="#000" stroke="#000" stroke-width="0.2">60</text></g>
<g clip-path="url(#ax3)"><rect x="617" y="537" width="5" height="1" fill="#000" shape-rendering="crispEdges"/><text x="625" y="541.7" fill="#000" stroke="#000" stroke-width="0.2">40</text></g>
<g clip-path="url(#ax3)"><rect x="617" y="558" width="5" height="1" fill="#000" shape-rendering="crispEdges"/><text x="625" y="562.7" fill="#000" stroke="#000" stroke-width="0.2">20</text></g>
<g clip-path="url(#ax3)"><rect x="617" y="579" width="5" height="1" fill="#000" shape-rendering="crispEdges"/><text x="625" y="583.7" fill="#000" stroke="#000" stroke-width="0.2">0</text></g>
<g clip-path="url(#ax3)"><rect x="617" y="599" width="5" height="1" fill="#000" shape-rendering="crispEdges"/><text x="625" y="603.7" fill="#000" stroke="#000" stroke-width="0.2">-20</text></g>
<g clip-path="url(#ax3)"><rect x="617" y="620" width="5" height="1" fill="#000" shape-rendering="crispEdges"/><text x="625" y="624.7" fill="#000" stroke="#000" stroke-width="0.2"></text></g>
<g clip-path="url(#ax3)"><path d="M609.8 565.6L616.3 557.6H668.9V573.6H616.3Z" fill="#0000cd" stroke="#000080" stroke-width="1" stroke-linejoin="miter"/><text x="625" y="569.8" fill="#fff" font-weight="bold">13.3</text></g>
<g clip-path="url(#ax3)"><path d="M609.8 608.6L616.3 600.6H668.9V616.6H616.3Z" fill="#008b8b" stroke="#005a5a" stroke-width="1" stroke-linejoin="miter"/><text x="625" y="612.8" fill="#fff" font-weight="bold">-28.62</text></g>
<g clip-path="url(#ax4)"><rect x="617" y="648" width="5" height="1" fill="#000" shape-rendering="crispEdges"/><text x="625" y="652.7" fill="#000" stroke="#000" stroke-width="0.2">80</text></g>
<g clip-path="url(#ax4)"><rect x="617" y="685" width="5" height="1" fill="#000" shape-rendering="crispEdges"/><text x="625" y="689.7" fill="#000" stroke="#000" stroke-width="0.2">60</text></g>
<g clip-path="url(#ax4)"><rect x="617" y="722" width="5" height="1" fill="#000" shape-rendering="crispEdges"/><text x="625" y="726.7" fill="#000" stroke="#000" stroke-width="0.2">40</text></g>
<g clip-path="url(#ax4)"><path d="M609.8 733.6L616.3 725.6H668.9V741.6H616.3Z" fill="#008b8b" stroke="#005a5a" stroke-width="1" stroke-linejoin="miter"/><text x="625" y="737.8" fill="#fff" font-weight="bold">33.86</text></g>
<g clip-path="url(#ax4)"><path d="M609.8 720.3L616.3 712.3H668.9V728.3H616.3Z" fill="#0000cd" stroke="#000080" stroke-width="1" stroke-linejoin="miter"/><text x="625" y="724.5" fill="#fff" font-weight="bold">40.94</text></g>
<g clip-path="url(#ax5)"><rect x="617" y="744" width="5" height="1" fill="#000" shape-rendering="crispEdges"/><text x="625" y="748.7" fill="#000" stroke="#000" stroke-width="0.2"></text></g>
<g clip-path="url(#ax5)"><rect x="617" y="768" width="5" height="1" fill="#000" shape-rendering="crispEdges"/><text x="625" y="772.7" fill="#000" stroke="#000" stroke-width="0.2">60</text></g>
<g clip-path="url(#ax5)"><rect x="617" y="792" width="5" height="1" fill="#000" shape-rendering="crispEdges"/><text x="625" y="796.7" fill="#000" stroke="#000" stroke-width="0.2">40</text></g>
<g clip-path="url(#ax5)"><rect x="617" y="816" width="5" height="1" fill="#000" shape-rendering="crispEdges"/><text x="625" y="820.7" fill="#000" stroke="#000" stroke-width="0.2">20</text></g>
<g clip-path="url(#ax5)"><rect x="617" y="840" width="5" height="1" fill="#000" shape-rendering="crispEdges"/><text x="625" y="844.7" fill="#000" stroke="#000" stroke-width="0.2">0</text></g>
<g clip-path="url(#ax5)"><path d="M609.8 806.5L616.3 798.5H668.9V814.5H616.3Z" fill="#ff0000" stroke="#a00000" stroke-width="1" stroke-linejoin="miter"/><text x="625" y="810.7" fill="#fff" font-weight="bold">28.42</text></g>
<g clip-path="url(#ax5)"><path d="M609.8 821.6L616.3 813.6H668.9V829.6H616.3Z" fill="#0000cd" stroke="#000080" stroke-width="1" stroke-linejoin="miter"/><text x="625" y="825.8" fill="#fff" font-weight="bold">15.77</text></g>
<defs><linearGradient id="bg" x1="0" x2="0" y1="0" y2="1"><stop offset="0" stop-color="#bcbcbc"/><stop offset="0.4" stop-color="#858585"/><stop offset="0.75" stop-color="#5a5a5a"/><stop offset="1" stop-color="#555"/></linearGradient></defs>
<rect x="677" y="8" width="4" height="26" fill="url(#bg)"/>
<rect x="677" y="41" width="4" height="26" fill="url(#bg)"/>
<rect x="677" y="74" width="4" height="26" fill="url(#bg)"/>
<rect x="677" y="107" width="4" height="26" fill="url(#bg)"/>
<rect x="677" y="141" width="4" height="29" fill="#c8c8c8"/>
<rect x="677" y="170" width="4" height="26.5" fill="#000"/>
<rect x="677.8" y="214" width="1.4" height="9.3" fill="#d89000"/>
<rect x="677.5" y="229" width="6" height="23" fill="#dcdcdc" stroke="#a0a0a0"/>
<defs><linearGradient id="btn" x1="0" x2="0" y1="0" y2="1"><stop offset="0" stop-color="#fafafa"/><stop offset="1" stop-color="#c8c8c8"/></linearGradient></defs>
<text x="677" y="270" fill="#000" stroke="#000" stroke-width="0.3">A</text>
<rect x="677.5" y="281.5" width="6" height="20" fill="url(#btn)" stroke="#303030"/>
<text x="677" y="320.5" fill="#000" stroke="#000" stroke-width="0.3">A</text>
<rect x="677.5" y="331.5" width="6" height="20" fill="url(#btn)" stroke="#303030"/>
<text x="677" y="370.5" fill="#000" stroke="#000" stroke-width="0.3">A</text>
<text x="677" y="392" fill="#101030" font-weight="bold">E</text>
</svg>
</body></html>
